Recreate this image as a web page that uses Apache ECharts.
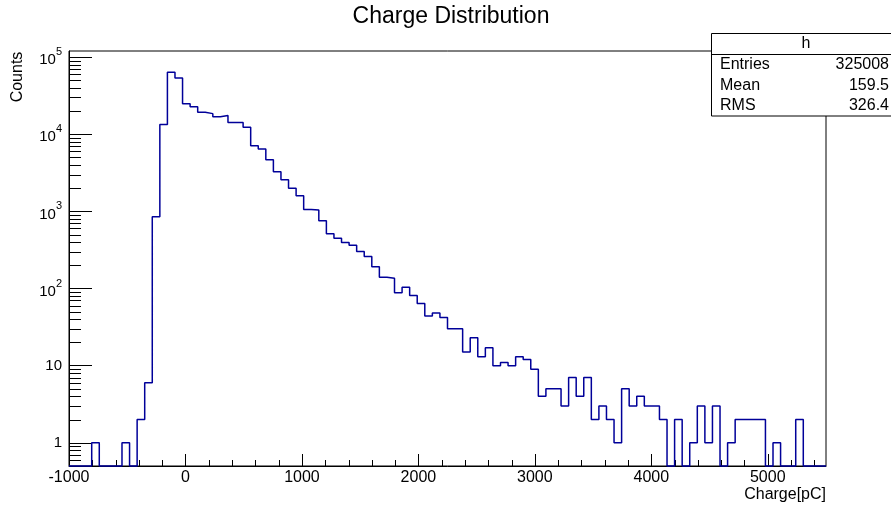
<!DOCTYPE html>
<html><head><meta charset="utf-8">
<script src="https://cdn.jsdelivr.net/npm/echarts@6/dist/echarts.min.js"></script>
<style>html,body{margin:0;padding:0;background:#fff}#c{width:891px;height:506px}</style>
</head><body><div id="c"></div>
<script>
// ---- data ----
const binLow = -1000;
const binWidth = 65;
const counts = [
  0, 0, 0, 1, 0, 0, 0, 1, 0, 2,
  6, 850, 13400, 63800, 53400, 24800, 22800, 19300, 18500, 16900,
  17500, 14200, 14200, 12300, 7100, 6450, 4660, 3270, 2570, 2000,
  1590, 1060, 1040, 755, 512, 450, 395, 363, 301, 260,
  192, 140, 136, 88, 104, 81, 64, 44, 48, 42,
  30, 30, 15, 23, 13, 17, 10, 11, 10, 13,
  12, 9, 4, 5, 5, 3, 7, 4, 7, 2,
  3, 2, 1, 5, 3, 4, 3, 3, 2, 0,
  2, 0, 1, 3, 1, 3, 0, 1, 2, 2,
  2, 2, 0, 1, 0, 0, 2, 0, 0, 0
];
const xRange = [-1000, 5500];
const yRange = [0.5, 1.2e5];
const xMajorTicks = [-1000, 0, 1000, 2000, 3000, 4000, 5000];
const xTickLabels = ['-1000', '0', '1000', '2000', '3000', '4000', '5000'];
const xMinorTicks = [-800, -600, -400, -200, 200, 400, 600, 800, 1200, 1400, 1600, 1800,
  2200, 2400, 2600, 2800, 3200, 3400, 3600, 3800, 4200, 4400, 4600, 4800, 5200, 5400];
const yMajorTicks = [1, 10, 100, 1000, 10000, 100000];
const yTickLabels = ['1', '10', '{b|10}{sup|2}', '{b|10}{sup|3}', '{b|10}{sup|4}', '{b|10}{sup|5}'];
const yMinorTicks = [0.6, 0.7, 0.8, 0.9,
  2, 3, 4, 5, 6, 7, 8, 9,
  20, 30, 40, 50, 60, 70, 80, 90,
  200, 300, 400, 500, 600, 700, 800, 900,
  2000, 3000, 4000, 5000, 6000, 7000, 8000, 9000,
  20000, 30000, 40000, 50000, 60000, 70000, 80000, 90000];
const titleText = 'Charge Distribution';
const xTitle = 'Charge[pC]';
const yTitle = 'Counts';
const statsTitle = 'h';
const statsLabels = ['Entries', 'Mean', 'RMS'];
const statsValues = ['325008', '159.5', '326.4'];

// ---- chart ----
const FONT = '"Liberation Sans", Arial, Helvetica, sans-serif';
const histPoints = counts.map((c, k) => [binLow + k * binWidth, Math.max(c, yRange[0])]);
histPoints.push([binLow + counts.length * binWidth, Math.max(counts[counts.length - 1], yRange[0])]);

const chart = echarts.init(document.getElementById('c'), null, {renderer: 'canvas'});

function tickLine(x1, y1, x2, y2) {
  return {type: 'line', shape: {x1, y1, x2, y2}, style: {stroke: '#000', lineWidth: 1}};
}

const statsRowY = [65, 86, 106];
const statsGraphics = [
  {type: 'rect', z: 100, shape: {x: 711.5, y: 33.5, width: 200, height: 82.5},
   style: {fill: '#fff', stroke: '#000', lineWidth: 1}},
  {type: 'line', z: 101, shape: {x1: 711.5, y1: 54.5, x2: 911, y2: 54.5},
   style: {stroke: '#000', lineWidth: 1}},
  {type: 'text', z: 101, x: 806, y: 44,
   style: {text: statsTitle, font: '16px ' + FONT, fill: '#000', align: 'center', verticalAlign: 'middle'}}
];
statsLabels.forEach((s, i) => {
  statsGraphics.push({type: 'text', z: 101, x: 720, y: statsRowY[i],
    style: {text: s, font: '16px ' + FONT, fill: '#000', align: 'left', verticalAlign: 'middle'}});
  statsGraphics.push({type: 'text', z: 101, x: 889, y: statsRowY[i],
    style: {text: statsValues[i], font: '16px ' + FONT, fill: '#000', align: 'right', verticalAlign: 'middle'}});
});

chart.setOption({
  animation: false,
  backgroundColor: '#fff',
  title: {
    text: titleText, left: 451, top: 5, textAlign: 'center', padding: 0,
    textStyle: {fontFamily: FONT, fontSize: 23, fontWeight: 'normal', color: '#000'}
  },
  grid: {left: 69, right: 65, top: 51, bottom: 40, show: true, borderColor: '#000', borderWidth: 1,
    backgroundColor: '#fff', containLabel: false, outerBoundsMode: 'none'},
  xAxis: {
    type: 'value', min: xRange[0], max: xRange[1], interval: 1000,
    name: xTitle, nameLocation: 'end', nameGap: 0,
    nameTextStyle: {fontFamily: FONT, fontSize: 16, color: '#000', align: 'right', verticalAlign: 'top', padding: [21, 0, 0, 0]},
    axisLine: {show: true, onZero: false, lineStyle: {color: '#000', width: 1}},
    axisTick: {show: true, inside: true, length: 12, lineStyle: {color: '#000', width: 1}},
    axisLabel: {
      margin: 4, fontFamily: FONT, fontSize: 16, color: '#000', showMaxLabel: false,
      formatter: v => { const i = xMajorTicks.indexOf(v); return i >= 0 ? xTickLabels[i] : ''; }
    },
    splitLine: {show: false}
  },
  yAxis: {
    type: 'log', logBase: 10, min: yRange[0], max: yRange[1],
    axisLine: {show: true, onZero: false, lineStyle: {color: '#000', width: 1}},
    axisTick: {show: true, inside: true, length: 23, lineStyle: {color: '#000', width: 1}},
    axisLabel: {
      margin: 7, fontFamily: FONT, fontSize: 15, color: '#000', showMinLabel: false, showMaxLabel: false,
      formatter: v => {
        const i = yMajorTicks.findIndex(t => Math.abs(Math.log10(t) - Math.log10(v)) < 1e-6);
        return i >= 0 ? yTickLabels[i] : '';
      },
      rich: {
        b: {fontFamily: FONT, fontSize: 15, lineHeight: 15, color: '#000', padding: [6, 0, 0, 0]},
        sup: {fontFamily: FONT, fontSize: 11, lineHeight: 11, color: '#000', padding: [0, 0, 10, 0]}
      }
    },
    splitLine: {show: false}
  },
  graphic: [
    {type: 'text', z: 100, x: 18, y: 77, rotation: Math.PI / 2,
     style: {text: yTitle, font: '16px ' + FONT, fill: '#000', align: 'center', verticalAlign: 'middle'}}
  ].concat(statsGraphics),
  series: [
    {
      type: 'line', step: 'end', data: histPoints, symbol: 'none', showSymbol: false, clip: false,
      lineStyle: {color: '#000099', width: 1.5}, z: 5
    },
    {
      type: 'custom', data: yMinorTicks.map(v => [xRange[0], v]), z: 4, silent: true, clip: false,
      renderItem: (params, api) => {
        const p = api.coord([api.value(0), api.value(1)]);
        const y = Math.round(p[1]) + 0.5;
        return tickLine(p[0], y, p[0] + 12, y);
      }
    },
    {
      type: 'custom', data: xMinorTicks.map(v => [v, yRange[0]]), z: 4, silent: true, clip: false,
      renderItem: (params, api) => {
        const p = api.coord([api.value(0), api.value(1)]);
        const x = Math.round(p[0]) + 0.5;
        return tickLine(x, p[1], x, p[1] - 6);
      }
    }
  ]
});
</script>
</body></html>
